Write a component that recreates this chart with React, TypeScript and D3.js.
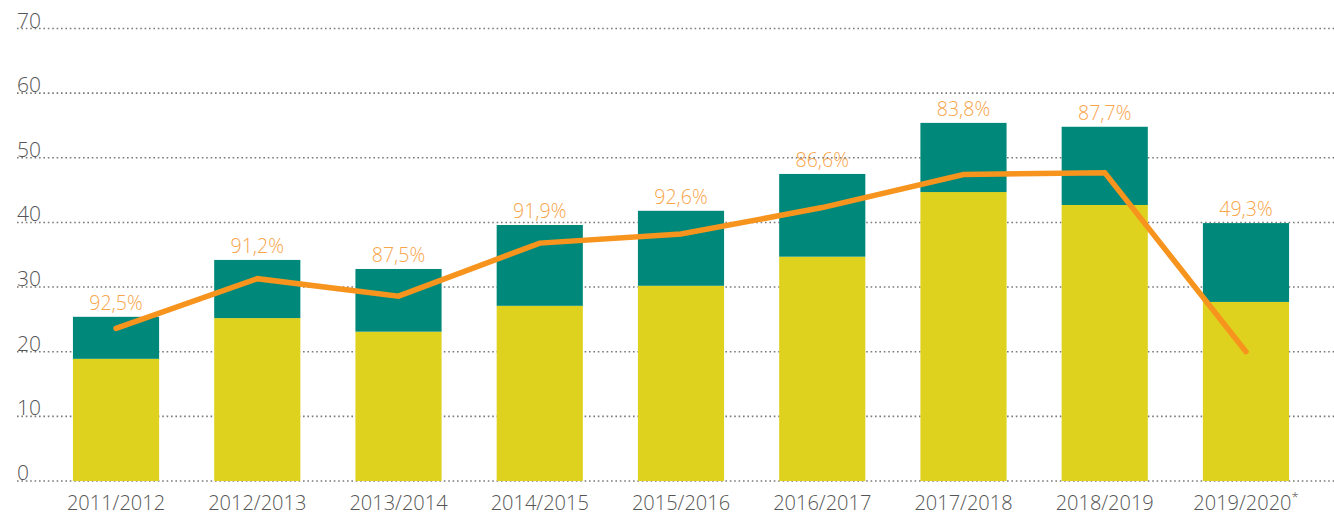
import React, { useMemo } from 'react';
import * as d3 from 'd3';

const W = 1334;
const H = 515;

const SEASONS = [
  '2011/2012', '2012/2013', '2013/2014', '2014/2015', '2015/2016',
  '2016/2017', '2017/2018', '2018/2019', '2019/2020',
];
// lower (yellow) part and total height of each stacked bar
const LOWER = [18.9, 25.2, 23.1, 27.1, 30.2, 34.7, 44.7, 42.7, 27.7];
const TOTAL = [25.4, 34.2, 32.8, 39.6, 41.8, 47.5, 55.4, 54.8, 39.9];
const LINE = [23.6, 31.3, 28.6, 36.8, 38.2, 42.3, 47.4, 47.7, 20.0];
const PCT_LABELS = ['92,5%', '91,2%', '87,5%', '91,9%', '92,6%', '86,6%', '83,8%', '87,7%', '49,3%'];
const Y_TICKS = [0, 10, 20, 30, 40, 50, 60, 70];

const TEAL = '#00887a';
const YELLOW = '#dfd21f';
const ORANGE = '#f7941d';
const LABEL_ORANGE = '#f8a448';
const TEXT = '#555555';
const FONT = '"Open Sans", "Noto Sans", sans-serif';

export default function App() {
  const x = useMemo(
    () => d3.scaleBand<string>().domain(SEASONS).range([45.4, 1316.6]).paddingInner(0.39).paddingOuter(0.195),
    []
  );
  const y = useMemo(() => d3.scaleLinear().domain([0, 70]).range([481, 28.5]), []);

  const line = d3
    .line<number>()
    .x((_, i) => (x(SEASONS[i]) ?? 0) + x.bandwidth() / 2)
    .y((d) => y(d));

  return (
    <svg width={W} height={H} style={{ position: 'absolute', left: 0, top: 0, background: '#fff' }}>
      {/* y tick labels (gridlines pass over them) */}
      {Y_TICKS.map((t) => (
        <text key={t} x={17} y={y(t) - 1} fontFamily={FONT} fontWeight={300} fontSize={21} fill={TEXT}>
          {t}
        </text>
      ))}

      {/* percentage labels */}
      {PCT_LABELS.map((l, i) => (
        <text
          key={l}
          x={(x(SEASONS[i]) ?? 0) + x.bandwidth() / 2}
          y={y(TOTAL[i]) - 7}
          textAnchor="middle"
          fontFamily={FONT}
          fontWeight={300}
          fontSize={19.5}
          fill={LABEL_ORANGE}
        >
          {l}
        </text>
      ))}

      {/* dotted gridlines */}
      {Y_TICKS.map((t) => (
        <line
          key={t}
          x1={17}
          x2={W}
          y1={y(t)}
          y2={y(t)}
          stroke="#7a7a7a"
          strokeWidth={1.6}
          strokeDasharray="1.6 2.8"
        />
      ))}

      {/* stacked bars */}
      {SEASONS.map((s, i) => (
        <g key={s}>
          <rect x={x(s)} width={x.bandwidth()} y={y(LOWER[i])} height={y(0) - y(LOWER[i])} fill={YELLOW} />
          <rect x={x(s)} width={x.bandwidth()} y={y(TOTAL[i])} height={y(LOWER[i]) - y(TOTAL[i])} fill={TEAL} />
        </g>
      ))}

      <path d={line(LINE) ?? ''} fill="none" stroke={ORANGE} strokeWidth={5.5} strokeLinecap="round" />

      {/* x axis labels */}
      {SEASONS.map((s, i) => (
        <text
          key={s}
          x={(x(s) ?? 0) + x.bandwidth() / 2}
          y={510}
          textAnchor="middle"
          fontFamily={FONT}
          fontWeight={300}
          fontSize={20}
          fill={TEXT}
        >
          {s}
          {i === SEASONS.length - 1 && (
            <tspan fontSize={13} dy={-8}>*</tspan>
          )}
        </text>
      ))}
    </svg>
  );
}
